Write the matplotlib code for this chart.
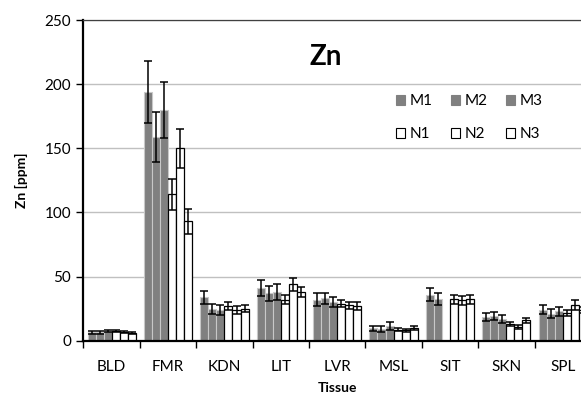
import numpy as np
import matplotlib
matplotlib.use('Agg')
import matplotlib.pyplot as plt
from matplotlib.patches import Patch

plt.rcParams['font.family'] = ['Lato', 'DejaVu Sans']

tissues = ['BLD', 'FMR', 'KDN', 'LIT', 'LVR', 'MSL', 'SIT', 'SKN', 'SPL']
series = ['M1', 'M2', 'M3', 'N1', 'N2', 'N3']

# mean Zn values per tissue, one list per series
m1 = [6.5, 194, 34, 41, 32, 9.6, 36, 18.5, 24]
m2 = [6.5, 158.5, 25, 37, 33, 9.1, 32.5, 19, 21]
m3 = [7.5, 180, 24, 38, 30, 11.4, np.nan, 17, 23]
n1 = [7.2, 114, 27, 32, 29, 8.7, 32.5, 13, 21.6]
n2 = [6.8, 150, 24, 44, 27.5, 8, 31.5, 11, 28]
n3 = [6, 93, 25, 38, 27, 10, 32.5, 16, 24]

# error bar half-lengths
m1_err = [1, 24, 5, 6, 5, 2, 5, 3, 3.5]
m2_err = [1, 19.5, 4, 6, 4.5, 2, 4.5, 3, 3.5]
m3_err = [1, 22, 4, 6, 4, 3, np.nan, 3, 3.5]
n1_err = [0.8, 12, 3, 3.5, 3, 1, 3.5, 1.5, 2.5]
n2_err = [0.8, 15, 3, 5, 3, 1, 3.5, 1.5, 4]
n3_err = [0.8, 10, 3, 4, 3, 1.5, 3.5, 2, 2.5]

values = [m1, m2, m3, n1, n2, n3]
errors = [m1_err, m2_err, m3_err, n1_err, n2_err, n3_err]

fig = plt.figure(figsize=(5.81, 3.97), dpi=100)
ax = fig.add_axes([0.1437, 0.1418, 0.8733, 0.8078])

x = np.arange(len(tissues))
w = 1 / 7
handles = []
for j, name in enumerate(series):
    pos = x + (j - 2.5) * w
    if name.startswith('M'):
        fc, ec, lw = '#808080', '#c8c8c8', 0.8
    else:
        fc, ec, lw = 'white', 'black', 0.9
    ax.bar(pos, values[j], width=w, color=fc, edgecolor=ec, linewidth=lw, zorder=2)
    ax.errorbar(pos, values[j], yerr=errors[j], fmt='none', ecolor='black',
                elinewidth=1.1, capsize=2.8, capthick=1.1, zorder=3)
    handles.append(Patch(facecolor=fc, edgecolor='black' if fc == 'white' else fc,
                         linewidth=0.8, label=name))

ax.set_xlim(-0.5, len(tissues) - 0.5)
ax.set_ylim(0, 250)
ax.set_yticks(range(0, 251, 50))
ax.yaxis.grid(True, color='#c0c0c0', linewidth=1, zorder=0)
ax.set_axisbelow(True)

ax.set_xticks(np.arange(-0.5, len(tissues), 1))
ax.set_xticklabels([])
ax.set_xticks(x, minor=True)
ax.set_xticklabels(tissues, minor=True)
ax.tick_params(axis='x', which='major', length=5, width=1, direction='out')
ax.tick_params(axis='x', which='minor', length=0, pad=14, labelsize=11)
ax.tick_params(axis='y', length=5, width=1, direction='out', labelsize=11, pad=4)

for s in ['left', 'bottom']:
    ax.spines[s].set_linewidth(1.6)
    ax.spines[s].set_color('black')
ax.spines['top'].set_linewidth(0.9)
ax.spines['top'].set_color('#404040')
ax.spines['right'].set_visible(False)

ax.set_xlabel('Tissue', fontsize=10, fontweight='bold', labelpad=6)
ax.set_ylabel('Zn [ppm]', fontsize=10, fontweight='bold', labelpad=12)

fig.text(326 / 581, 1 - 57 / 397, 'Zn', fontsize=20, fontweight='bold',
         ha='center', va='center')

order = [0, 3, 1, 4, 2, 5]
ax.legend([handles[i] for i in order], [series[i] for i in order], ncol=3,
          frameon=False, fontsize=11, handlelength=0.6, handleheight=0.6,
          handletextpad=0.3, columnspacing=1.2, labelspacing=1.25,
          loc='upper left', bbox_to_anchor=(390 / 581, 1 - 88 / 397),
          bbox_transform=fig.transFigure, borderaxespad=0)

fig.savefig('out.png', dpi=100)
